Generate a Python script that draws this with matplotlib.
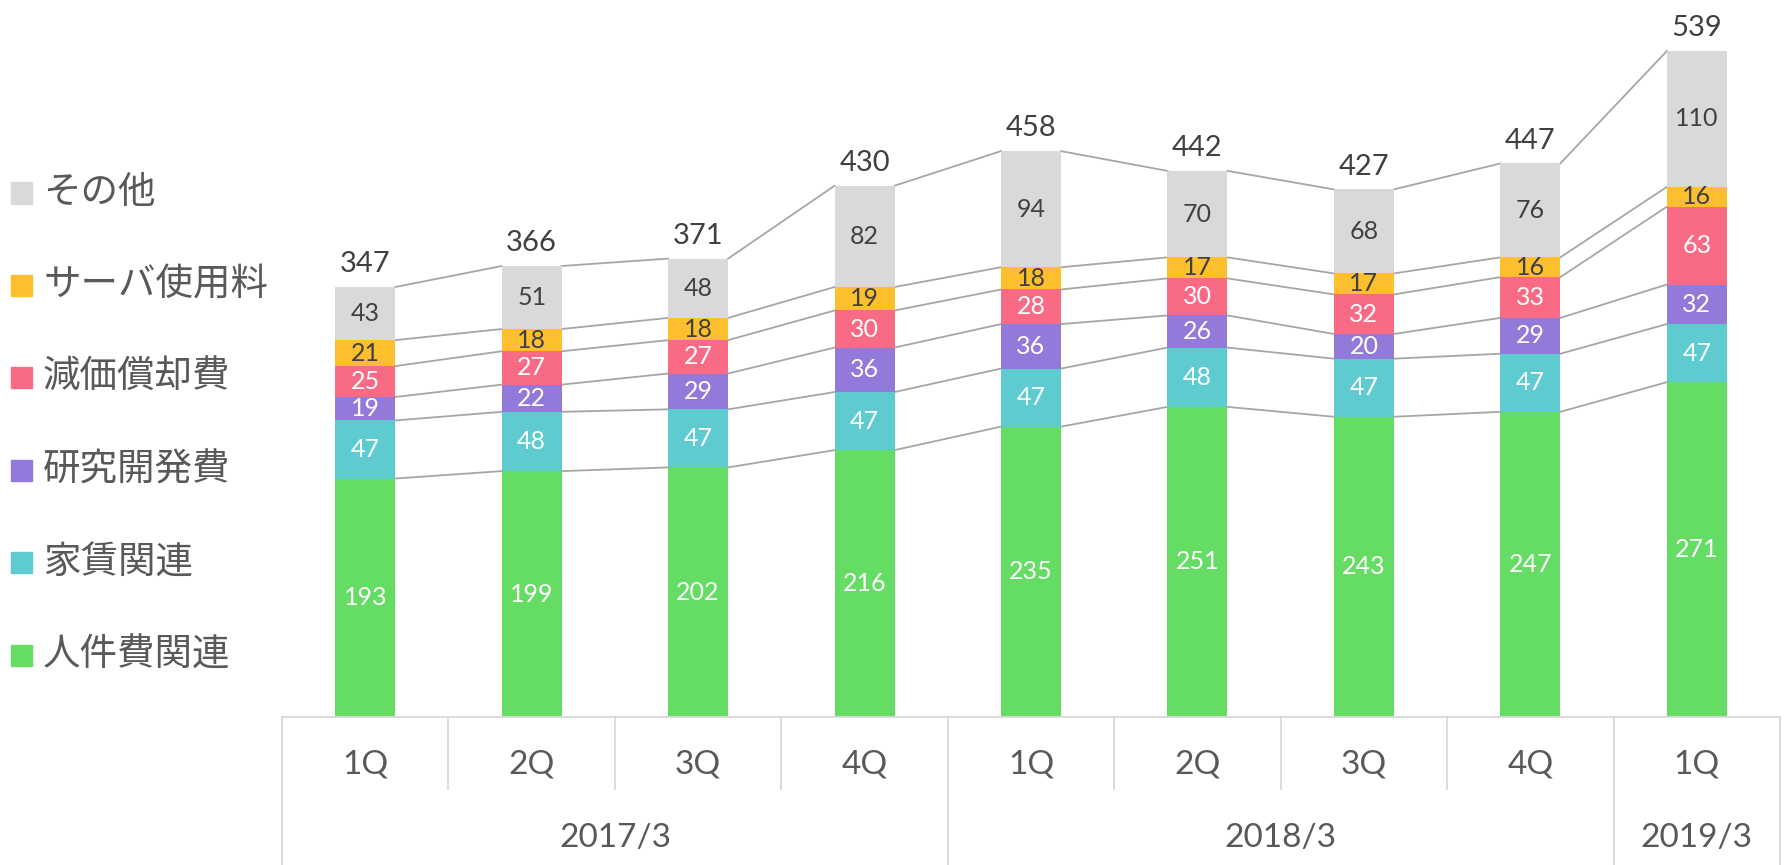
import matplotlib.pyplot as plt
from matplotlib.patches import Rectangle
from matplotlib.transforms import blended_transform_factory
import numpy as np

# data
quarters = ['1Q', '2Q', '3Q', '4Q', '1Q', '2Q', '3Q', '4Q', '1Q']
years = ['2017/3', '2018/3', '2019/3']
year_groups = [(0, 3), (4, 7), (8, 8)]

personnel = [193, 199, 202, 216, 235, 251, 243, 247, 271]
rent = [47, 48, 47, 47, 47, 48, 47, 47, 47]
rnd = [19, 22, 29, 36, 36, 26, 20, 29, 32]
depreciation = [25, 27, 27, 30, 28, 30, 32, 33, 63]
server = [21, 18, 18, 19, 18, 17, 17, 16, 16]
other = [43, 51, 48, 82, 94, 70, 68, 76, 110]
totals = [347, 366, 371, 430, 458, 442, 427, 447, 539]

series = [personnel, rent, rnd, depreciation, server, other]
names = ['人件費関連', '家賃関連', '研究開発費', '減価償却費', 'サーバ使用料', 'その他']
colors = ['#65dc64', '#5ecbd0', '#9379d9', '#f96b85', '#fdbf2d', '#d9d9d9']
label_colors = ['white', 'white', 'white', 'white', '#404040', '#404040']

num_font = ['Lato', 'Noto Sans CJK JP']
jp_font = ['Noto Sans CJK JP', 'DejaVu Sans']

fig = plt.figure(figsize=(17.9, 8.65), dpi=100)
ax = fig.add_axes([282 / 1790, 148 / 865, 1498 / 1790, 717 / 865])

x = np.arange(len(quarters))
w = 0.36
bottom = np.zeros(len(x))
levels = []
for vals, col, lc in zip(series, colors, label_colors):
    vals = np.array(vals)
    ax.bar(x, vals, w, bottom=bottom, color=col, zorder=2)
    for xi, b, v in zip(x, bottom, vals):
        ax.text(xi, b + v / 2, str(v), ha='center', va='center',
                fontsize=18, color=lc, family=num_font, zorder=3)
    bottom = bottom + vals
    levels.append(bottom.copy())

# connecting lines between bars
for lev in levels:
    for i in range(len(x) - 1):
        ax.plot([x[i] + w / 2, x[i + 1] - w / 2], [lev[i], lev[i + 1]],
                color='#a6a6a6', lw=1.3, zorder=1)

for xi, top, t in zip(x, bottom, totals):
    ax.text(xi, top + 8, str(t), ha='center', va='bottom', fontsize=21,
            color='#404040', family=num_font)

ax.set_xlim(-0.5, len(x) - 0.5)
ax.set_ylim(0, 580.3)
ax.axis('off')

# category axis
tr = blended_transform_factory(ax.transData, ax.transAxes)
ax.plot([-0.5, len(x) - 0.5], [0, 0], transform=tr, color='#d9d9d9', lw=1.3, clip_on=False)
outer = {-0.5, 3.5, 7.5, 8.5}
for i in range(len(x) + 1):
    xb = i - 0.5
    yb = -0.2064 if xb in outer else -0.1004
    ax.plot([xb, xb], [0, yb], transform=tr, color='#d9d9d9', lw=1.3, clip_on=False)
for xi, q in zip(x, quarters):
    ax.text(xi, -0.066, q, transform=tr, ha='center', va='center',
            fontsize=24, color='#595959', family=num_font)
for (a, b), yr in zip(year_groups, years):
    ax.text((a + b) / 2, -0.1688, yr, transform=tr, ha='center', va='center',
            fontsize=24, color='#595959', family=num_font)

# legend on the left
for k, (nm, col) in enumerate(zip(names[::-1], colors[::-1])):
    yc = 193 + k * 92.4
    fig.patches.append(Rectangle((11 / 1790, 1 - (yc + 10.5) / 865), 21 / 1790, 21 / 865,
                                 transform=fig.transFigure, color=col))
    fig.text(43 / 1790, 1 - yc / 865, nm, ha='left', va='center', fontsize=27,
             color='#595959', family=jp_font)

fig.savefig('out.png', dpi=100)
